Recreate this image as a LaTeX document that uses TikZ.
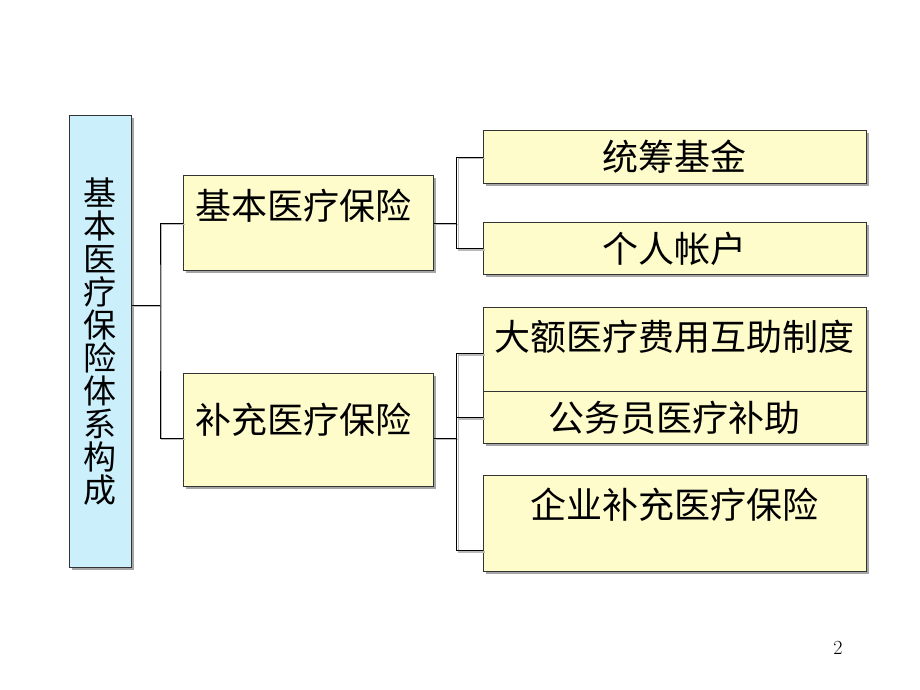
\documentclass[tikz,border=0pt]{standalone}
\usepackage{fontspec}
\newfontfamily\cjk{Noto Sans CJK SC}
\usetikzlibrary{shadows}

\begin{document}
\begin{tikzpicture}[x=1pt,y=-1pt,
	box/.style={draw=black!80,line width=0.8pt,fill=yellow!20,anchor=north west,inner sep=0pt,
		font=\cjk\fontsize{36}{36}\selectfont,
		drop shadow={shadow xshift=3pt,shadow yshift=-3pt,fill=gray!70,opacity=1}},
	left box/.style={box,align=left,text width=226pt,inner xsep=12pt,text height=24pt},
	root node/.style={box,fill=cyan!20,align=center,text width=36pt,font=\cjk\fontsize{33}{33}\selectfont},
	link/.style={draw=black,line width=0.8pt,
		preaction={draw=gray!55,line width=1.2pt,transform canvas={xshift=1.5pt,yshift=-1.5pt}}}]
	\useasboundingbox[fill=white] (0,0) rectangle (920,690);

	\node[root node,minimum width=62pt,minimum height=452pt] (root) at (69,115) {基\\本\\医\\疗\\保\\险\\体\\系\\构\\成};

	\node[left box,minimum height=95pt,text depth=31.6pt] (basic) at (183,175) {基本医疗保险};
	\node[left box,minimum height=113pt,text depth=17.6pt] (supp) at (183,373) {补充医疗保险};

	\node[box,minimum width=383pt,minimum height=53pt] (fund) at (483,130) {统筹基金};
	\node[box,minimum width=383pt,minimum height=52pt] (acct) at (483,222) {个人帐户};
	\node[box,minimum width=383pt,minimum height=84pt,text height=24pt,text depth=22.6pt] (large) at (483,307) {大额医疗费用互助制度};
	\node[box,minimum width=383pt,minimum height=52pt] (civil) at (483,391) {公务员医疗补助};
	\node[box,minimum width=383pt,minimum height=96pt,text height=24pt,text depth=34.6pt] (firm) at (483,475) {企业补充医疗保险};

	% connectors
	\coordinate (j1) at (160,305);
	\path[link] (root.east |- j1) -- (j1);
	\path[link] (basic.west) -| (j1) |- ([yshift=-8pt]supp.west);
	\path[link] (basic.east) -- ++(23,0) coordinate (j2);
	\path[link] (fund.west) -| (j2) |- (acct.west);
	\path[link] ([yshift=-8pt]supp.east) -- ++(23,0) coordinate (j3);
	\path[link] ([yshift=-4pt]large.west) -| (j3) |- ([yshift=-27pt]firm.west);
	\path[link] (j3 |- civil.west) -- (civil.west);

	\node[font=\fontsize{20}{20}\selectfont] (page) at (838,648) {2};
\end{tikzpicture}
\end{document}
